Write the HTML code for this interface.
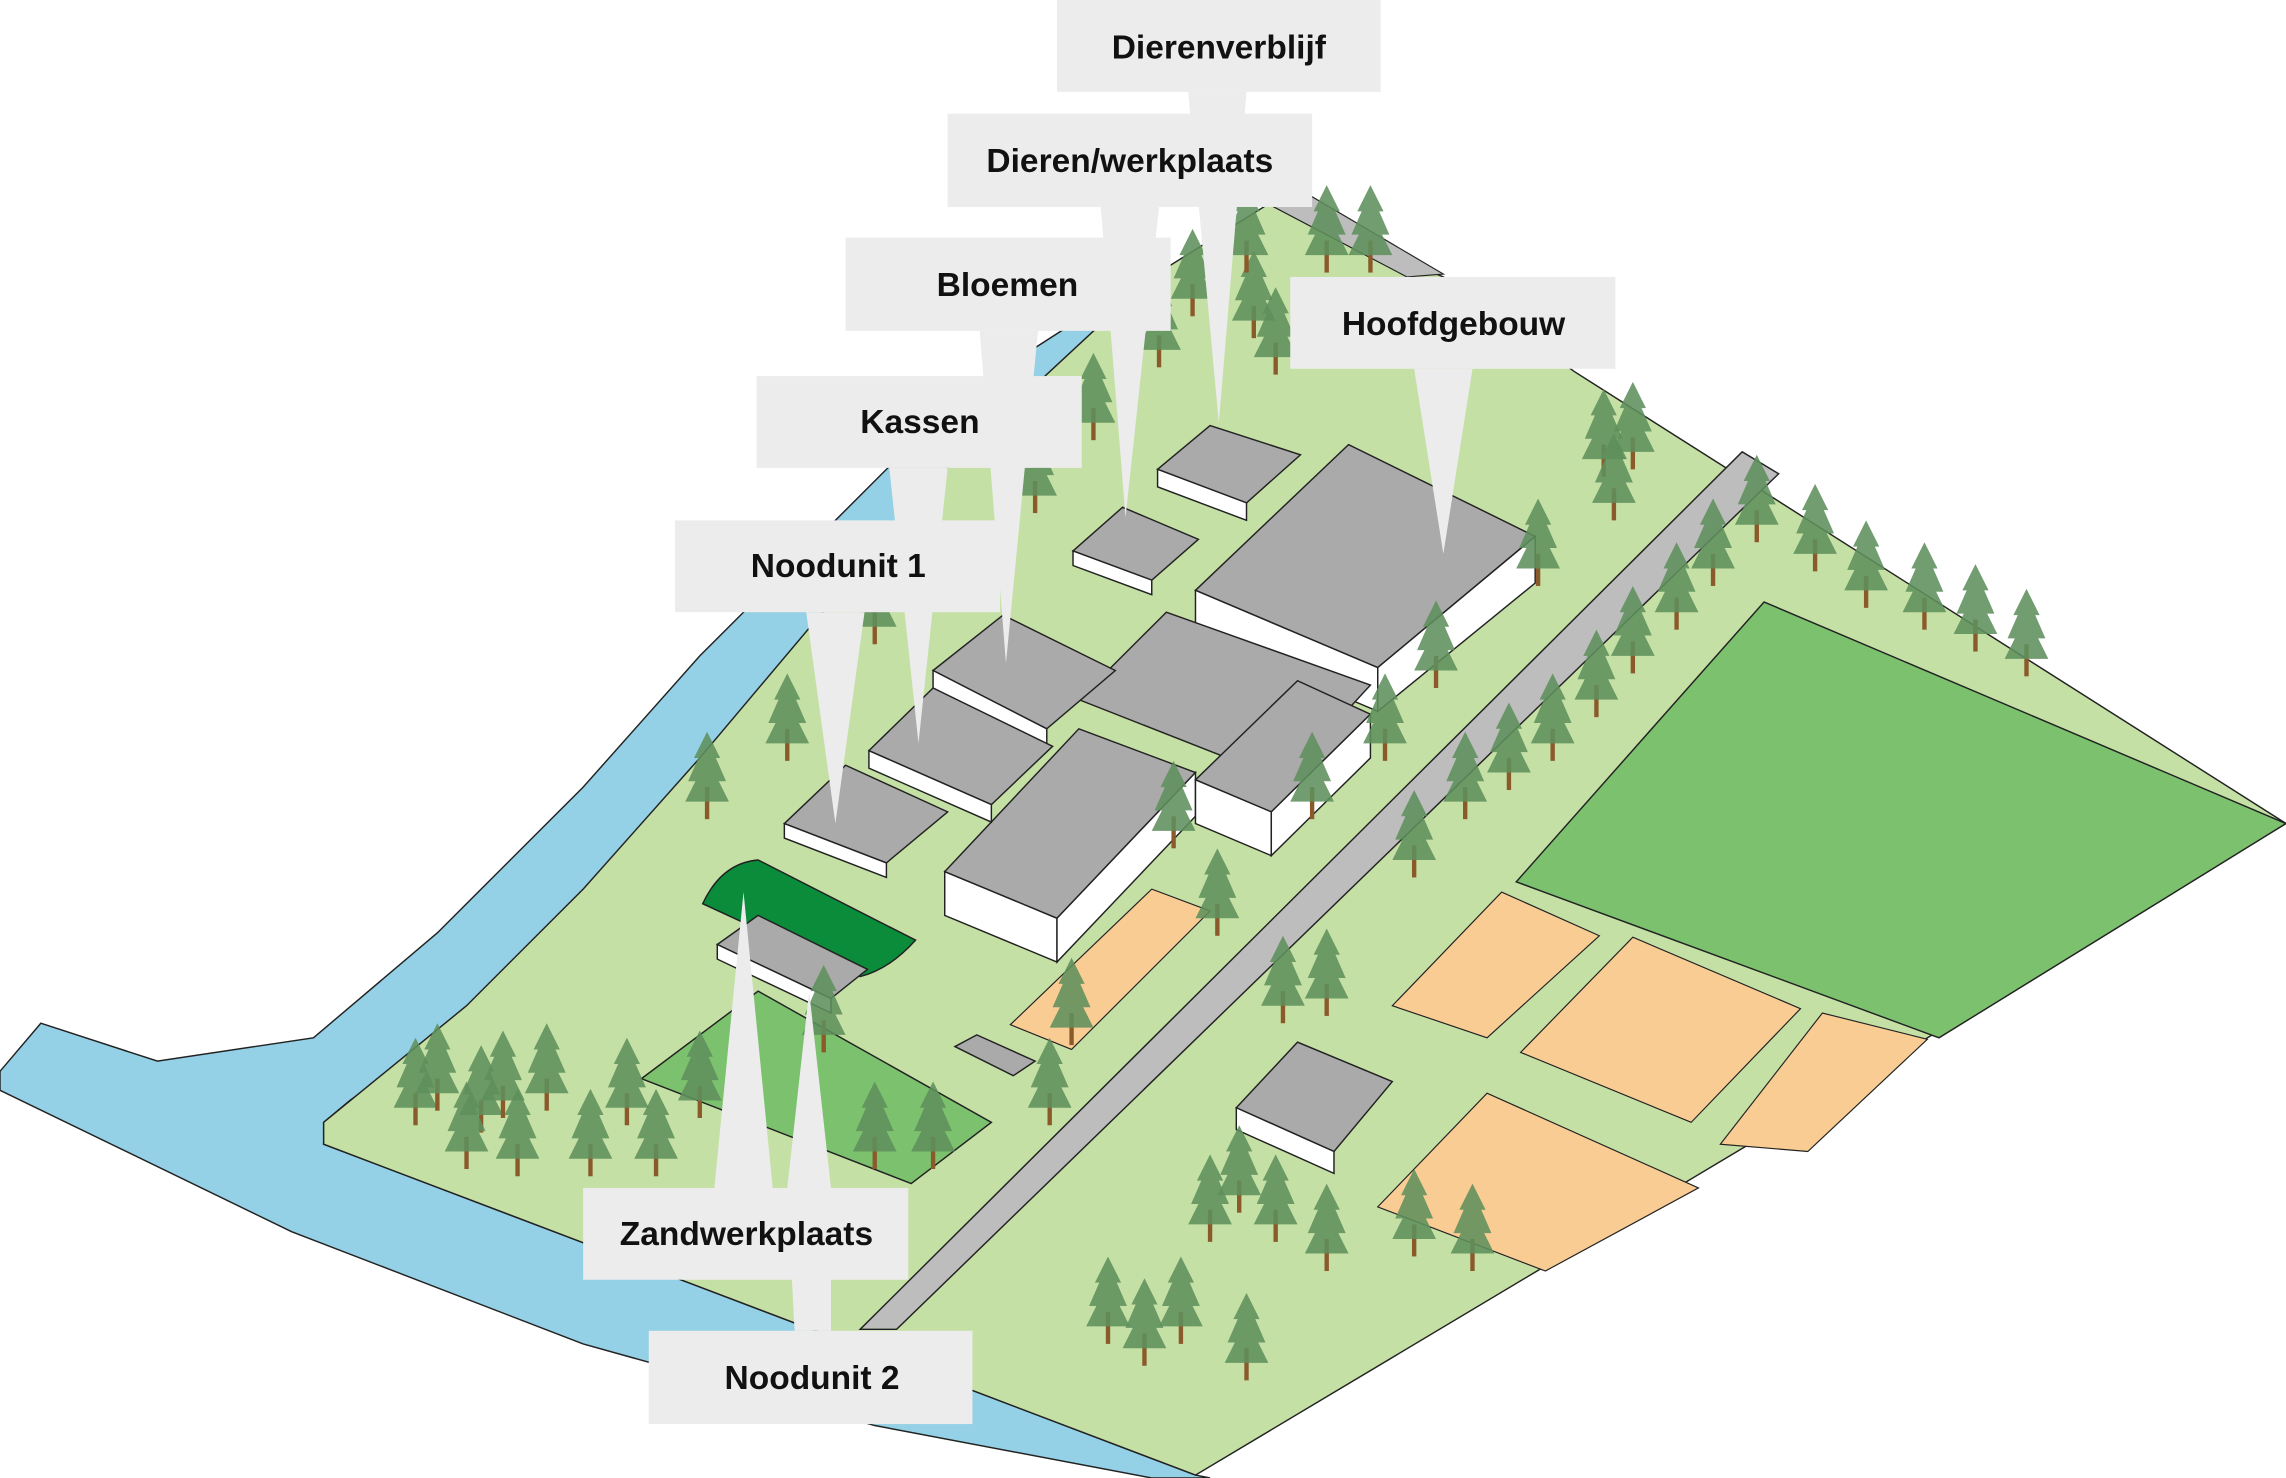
<!DOCTYPE html>
<html><head><meta charset="utf-8"><style>
html,body{margin:0;padding:0;background:#fff;}
svg{display:block;}
text{font-family:"Liberation Sans",sans-serif;font-weight:bold;font-size:23px;fill:#111;}
</style></head><body>
<svg width="2286" height="1478" viewBox="0 0 1568 1014" preserveAspectRatio="none" xmlns="http://www.w3.org/2000/svg">
<defs>
<g id="t">
<rect x="-1.5" y="-20" width="3" height="22" fill="#8b5a2b"/>
<polygon points="0,-58 9,-40 6,-40 13,-24 8,-24 15,-10 -15,-10 -8,-24 -13,-24 -6,-40 -9,-40" fill="#5f8f5c" fill-opacity="0.88"/>
</g>
</defs>
<!-- water -->
<polygon points="0,735 28,702 108,728 215,712 300,640 400,540 480,450 560,370 620,310 700,245 770,200 800,215 720,270 640,340 560,430 490,520 410,610 330,690 240,755 222,770 222,785 820,1012 830,1014 790,1014 600,978 400,922 200,845 0,748" fill="#94d0e6" stroke="#222" stroke-width="1"/>
<!-- land -->
<polygon points="222,770 222,785 820,1012 1568,565 1080,255 990,190 870,140 790,190 720,255 640,330 560,425 480,520 400,610 320,690" fill="#c5e0a5" stroke="#222" stroke-width="1"/>
<!-- top road bit -->
<polygon points="870,140 900,135 990,188 965,190" fill="#bdbdbd" stroke="#222" stroke-width="0.8"/>
<!-- road -->
<polygon points="590,912 615,912 1220,325 1195,310" fill="#bdbdbd" stroke="#222" stroke-width="1"/>
<!-- fields -->
<polygon points="1040,605 1210,413 1568,565 1330,712" fill="#7cc16e" stroke="#222" stroke-width="1"/>
<polygon points="440,740 520,680 680,770 625,812" fill="#7cc16e" stroke="#222" stroke-width="1"/>
<g fill="#f9cc94" stroke="#222" stroke-width="0.8">
<polygon points="955,690 1030,612 1097,642 1020,712"/>
<polygon points="1043,722 1120,643 1235,692 1160,770"/>
<polygon points="1180,785 1250,695 1322,713 1240,790"/>
<polygon points="945,828 1020,750 1165,815 1060,872"/>
<polygon points="693,703 790,610 830,625 735,720"/>
</g>
<!-- buildings -->
<g stroke="#222" stroke-width="1">
<polygon points="820,405 925,305 1053,368 945,458" fill="#aaa"/>
<polygon points="945,458 1053,368 1053,400 945,488" fill="#fff"/>
<polygon points="820,405 945,458 945,488 820,435" fill="#fff"/>
<polygon points="740,480 800,420 940,470 880,535" fill="#aaa"/>
<polygon points="648,598 740,500 820,530 725,630" fill="#aaa"/>
<polygon points="648,598 725,630 725,660 648,628" fill="#fff"/>
<polygon points="725,630 820,530 820,560 725,660" fill="#fff"/>
<polygon points="820,535 890,467 940,490 872,557" fill="#aaa"/>
<polygon points="820,535 872,557 872,587 820,565" fill="#fff"/>
<polygon points="872,557 940,490 940,520 872,587" fill="#fff"/>
<polygon points="640,460 688,422 765,460 718,500" fill="#aaa"/>
<polygon points="640,460 718,500 718,512 640,472" fill="#fff"/>
<polygon points="596,515 640,472 722,512 680,552" fill="#aaa"/>
<polygon points="596,515 680,552 680,564 596,527" fill="#fff"/>
<polygon points="538,565 580,525 650,557 608,592" fill="#aaa"/>
<polygon points="538,565 608,592 608,602 538,575" fill="#fff"/>
<polygon points="736,378 770,348 822,370 790,398" fill="#aaa"/>
<polygon points="736,378 790,398 790,408 736,388" fill="#fff"/>
<polygon points="794,322 830,292 892,312 855,345" fill="#aaa"/>
<polygon points="794,322 855,345 855,357 794,334" fill="#fff"/>
<path d="M482,620 Q495,592 520,590 L628,645 Q610,665 590,670 Z" fill="#0a8c3a"/>
<polygon points="492,648 520,628 595,665 570,685" fill="#aaa"/>
<polygon points="492,648 570,685 570,695 492,658" fill="#fff"/>
<polygon points="655,718 670,710 710,728 695,738" fill="#aaa"/>
<polygon points="848,760 890,715 955,742 915,790" fill="#aaa"/>
<polygon points="848,760 915,790 915,805 848,775" fill="#fff"/>
</g>
<!-- trees -->
<g>
<use href="#t" x="285" y="770"/><use href="#t" x="300" y="760"/><use href="#t" x="330" y="775"/><use href="#t" x="345" y="765"/><use href="#t" x="375" y="760"/><use href="#t" x="430" y="770"/><use href="#t" x="405" y="805"/><use href="#t" x="450" y="805"/><use href="#t" x="480" y="765"/><use href="#t" x="320" y="800"/><use href="#t" x="355" y="805"/><use href="#t" x="540" y="520"/><use href="#t" x="485" y="560"/><use href="#t" x="600" y="440"/><use href="#t" x="565" y="720"/><use href="#t" x="600" y="800"/><use href="#t" x="640" y="800"/><use href="#t" x="720" y="770"/><use href="#t" x="735" y="715"/><use href="#t" x="805" y="580"/><use href="#t" x="835" y="640"/><use href="#t" x="880" y="700"/><use href="#t" x="910" y="695"/><use href="#t" x="830" y="850"/><use href="#t" x="850" y="830"/><use href="#t" x="875" y="850"/><use href="#t" x="910" y="870"/><use href="#t" x="970" y="860"/><use href="#t" x="1010" y="870"/><use href="#t" x="760" y="920"/><use href="#t" x="785" y="935"/><use href="#t" x="810" y="920"/><use href="#t" x="855" y="945"/><use href="#t" x="950" y="520"/><use href="#t" x="985" y="470"/><use href="#t" x="970" y="600"/><use href="#t" x="1005" y="560"/><use href="#t" x="1035" y="540"/><use href="#t" x="1065" y="520"/><use href="#t" x="1095" y="490"/><use href="#t" x="1120" y="460"/><use href="#t" x="1150" y="430"/><use href="#t" x="1175" y="400"/><use href="#t" x="1205" y="370"/><use href="#t" x="1245" y="390"/><use href="#t" x="1280" y="415"/><use href="#t" x="1320" y="430"/><use href="#t" x="1355" y="445"/><use href="#t" x="1390" y="462"/><use href="#t" x="1120" y="320"/><use href="#t" x="1100" y="325"/><use href="#t" x="1107" y="355"/><use href="#t" x="1055" y="400"/><use href="#t" x="710" y="350"/><use href="#t" x="750" y="300"/><use href="#t" x="795" y="250"/><use href="#t" x="818" y="215"/><use href="#t" x="860" y="230"/><use href="#t" x="875" y="255"/><use href="#t" x="855" y="185"/><use href="#t" x="910" y="185"/><use href="#t" x="940" y="185"/><use href="#t" x="900" y="560"/>
</g>
<!-- labels -->
<g fill="#ececec">
<polygon points="815,63 855,63 836,290"/>
<rect x="725" y="0" width="222" height="63"/>
<polygon points="755,142 795,142 772,355"/>
<rect x="650" y="78" width="250" height="64"/>
<polygon points="672,227 712,227 690,455"/>
<rect x="580" y="163" width="223" height="64"/>
<polygon points="970,253 1010,253 990,380"/>
<rect x="885" y="190" width="223" height="63"/>
<polygon points="610,321 650,321 630,510"/>
<rect x="519" y="258" width="223" height="63"/>
<polygon points="553,420 593,420 573,565"/>
<rect x="463" y="357" width="223" height="63"/>
<polygon points="490,815 530,815 510,612"/>
<polygon points="545,913 570,913 570,815 555,680 540,815"/>
<rect x="400" y="815" width="223" height="63"/>
<rect x="445" y="913" width="222" height="64"/>
</g>
<text x="836" y="40" text-anchor="middle">Dierenverblijf</text>
<text x="775" y="118" text-anchor="middle">Dieren/werkplaats</text>
<text x="691" y="203" text-anchor="middle">Bloemen</text>
<text x="997" y="230" text-anchor="middle">Hoofdgebouw</text>
<text x="631" y="297" text-anchor="middle">Kassen</text>
<text x="575" y="396" text-anchor="middle">Noodunit 1</text>
<text x="512" y="854" text-anchor="middle">Zandwerkplaats</text>
<text x="557" y="953" text-anchor="middle">Noodunit 2</text>
</svg>
</body></html>
